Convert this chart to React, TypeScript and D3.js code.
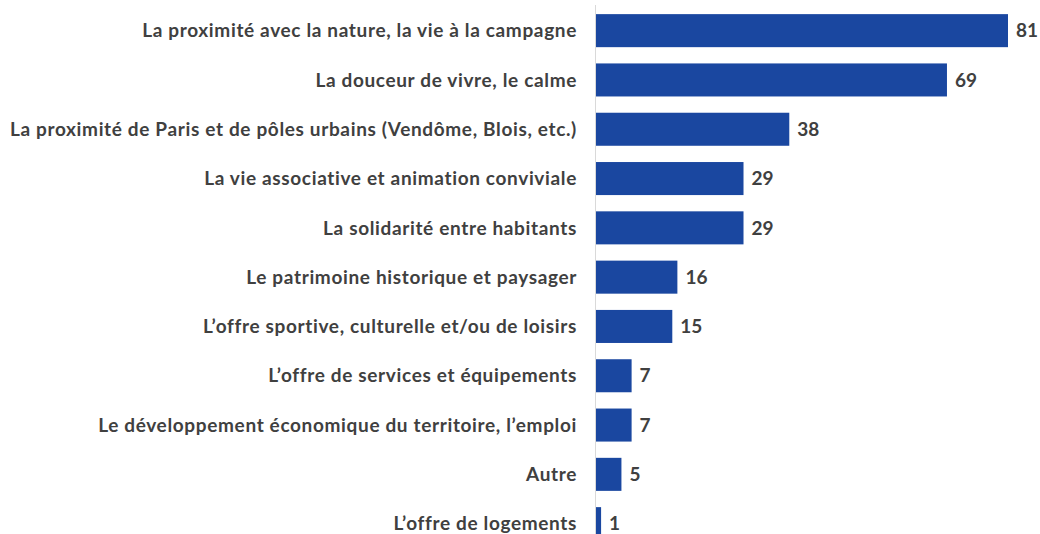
import React, { useEffect, useRef } from 'react';
import * as d3 from 'd3';

const categories = [
  "La proximité avec la nature, la vie à la campagne",
  "La douceur de vivre, le calme",
  "La proximité de Paris et de pôles urbains (Vendôme, Blois, etc.)",
  "La vie associative et animation conviviale",
  "La solidarité entre habitants",
  "Le patrimoine historique et paysager",
  "L’offre sportive, culturelle et/ou de loisirs",
  "L’offre de services et équipements",
  "Le développement économique du territoire, l’emploi",
  "Autre",
  "L’offre de logements",
];
const values = [81, 69, 38, 29, 29, 16, 15, 7, 7, 5, 1];

export default function App() {
  const svgRef = useRef<SVGSVGElement>(null);

  useEffect(() => {
    if (!svgRef.current) return;
    document.body.style.margin = '0';

    const svg = d3.select(svgRef.current);
    svg.selectAll("*").remove();

    const font = "Lato, 'Open Sans', sans-serif";
    const textColor = "#404040";

    const x = d3.scaleLinear().domain([0, 81]).range([596, 1008]);
    const y = d3.scaleBand<string>()
      .domain(categories)
      .range([6, 6 + 11 * 49.3])
      .paddingInner(0.33)
      .paddingOuter(0.165);

    const rows = categories.map((c, i) => ({ c, v: values[i] }));

    // bars
    svg.append("g")
      .selectAll("rect")
      .data(rows)
      .join("rect")
      .attr("x", x(0))
      .attr("y", d => y(d.c)!)
      .attr("width", d => x(d.v) - x(0))
      .attr("height", y.bandwidth())
      .attr("fill", "#1a47a0");

    // axis line
    svg.append("line")
      .attr("x1", 595.5).attr("x2", 595.5)
      .attr("y1", 5).attr("y2", 534)
      .attr("stroke", "#d9d9d9")
      .attr("stroke-width", 1);

    // category labels
    svg.append("g")
      .selectAll("text")
      .data(rows)
      .join("text")
      .attr("x", 577)
      .attr("y", d => y(d.c)! + y.bandwidth() / 2)
      .attr("dy", "0.35em")
      .attr("text-anchor", "end")
      .attr("font-family", font)
      .attr("font-weight", 700)
      .attr("font-size", 19)
      .attr("letter-spacing", 0.65)
      .attr("fill", textColor)
      .text(d => d.c);

    // value labels
    svg.append("g")
      .selectAll("text")
      .data(rows)
      .join("text")
      .attr("x", d => x(d.v) + 8)
      .attr("y", d => y(d.c)! + y.bandwidth() / 2)
      .attr("dy", "0.35em")
      .attr("font-family", font)
      .attr("font-weight", 700)
      .attr("font-size", 19)
      .attr("fill", textColor)
      .text(d => d.v);
  }, []);

  return <svg ref={svgRef} width={1040} height={534} style={{ display: 'block', background: '#fff' }} />;
}
